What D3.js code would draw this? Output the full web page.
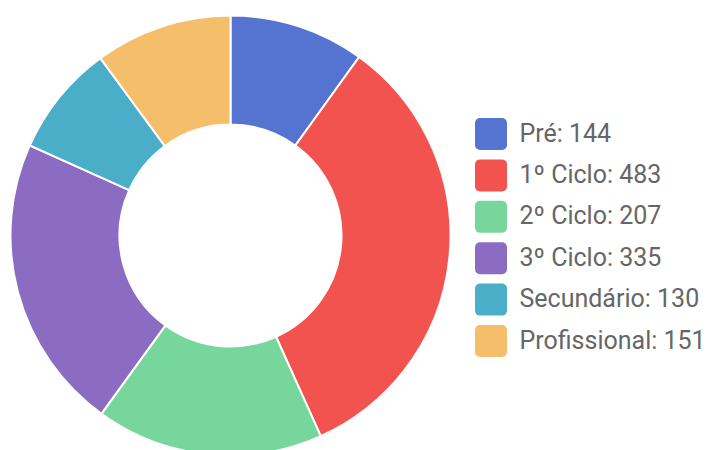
<!DOCTYPE html>
<html>
<head>
<meta charset="utf-8">
<script src="https://d3js.org/d3.v7.min.js"></script>
<style>
  body { margin: 0; background: #fff; }
  svg { display: block; }
</style>
</head>
<body>
<div id="chart-area"></div>
<script>
var width = 712;
var height = 450;

// data
var categories = ["Pré", "1º Ciclo", "2º Ciclo", "3º Ciclo", "Secundário", "Profissional"];
// numbers printed in the legend
var labelValues = [144, 483, 207, 335, 130, 151];
// slice sizes as drawn in the picture (they differ from the legend numbers)
var sliceValues = [144, 483, 242, 315, 119, 146];
var colors = ["#5573d0", "#f3534f", "#76d69b", "#8c6bc2", "#4baec8", "#f5be6a"];

var svg = d3.select("#chart-area").append("svg")
.attr("width", width)
.attr("height", height)

var cx = 230.5, cy = 235.5;
var outer = 220, inner = 111;

var g = svg.append("g")
.attr("transform", "translate(" + cx + ", " + cy + ")")

var pie = d3.pie().sort(null).value(d => d)
var arc = d3.arc().innerRadius(inner).outerRadius(outer)

var color = d3.scaleOrdinal().domain(categories).range(colors)

g.selectAll("path")
.data(pie(sliceValues))
.enter().append("path")
.attr("d", arc)
.attr("fill", (d, i) => color(categories[i]))
.attr("stroke", "#fff")
.attr("stroke-width", 2)

// legend
var legend = svg.append("g")
.attr("transform", "translate(475, 118)")

var rows = legend.selectAll("g")
.data(categories)
.enter().append("g")
.attr("transform", (d, i) => "translate(0, " + (i * 41.4) + ")")

rows.append("rect")
.attr("width", 32)
.attr("height", 32)
.attr("rx", 5)
.attr("fill", d => color(d))

rows.append("text")
.attr("x", 44.5)
.attr("y", 23.5)
.attr("font-family", "Roboto, sans-serif")
.attr("font-size", "25px")
.style("fill", "#666")
.text((d, i) => d + ": " + labelValues[i])
</script>
</body>
</html>
